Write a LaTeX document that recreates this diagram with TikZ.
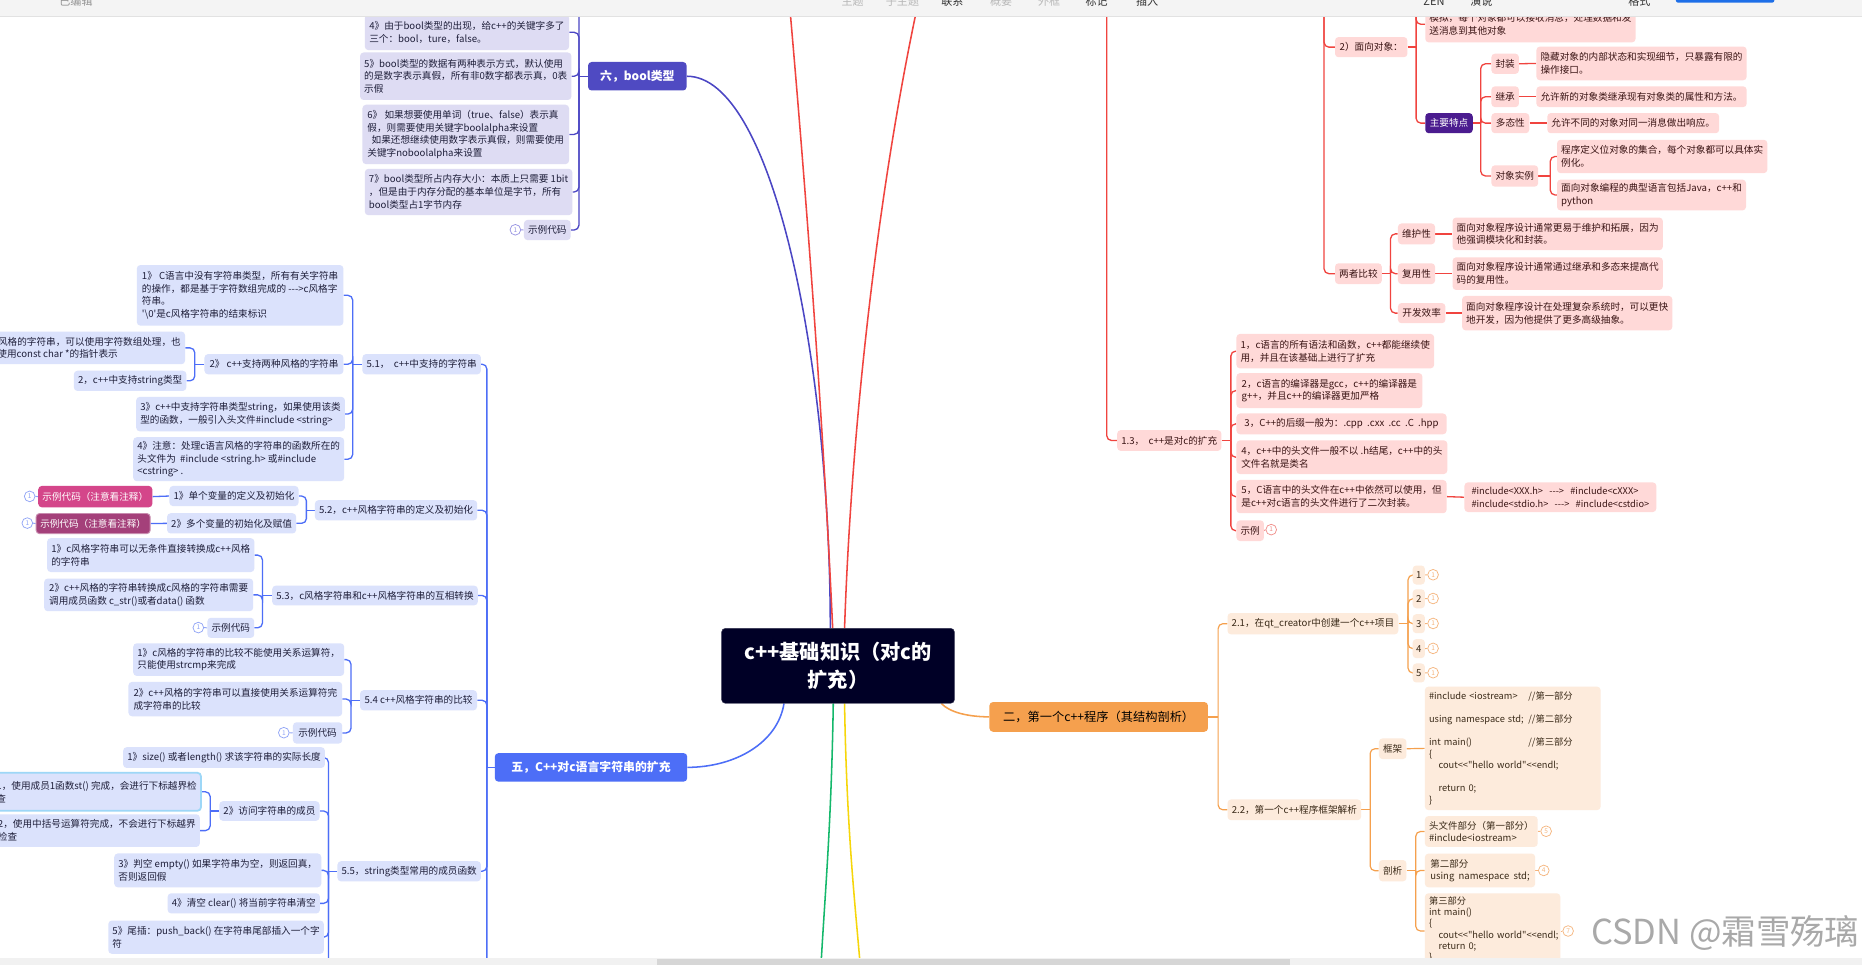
\documentclass[tikz,border=0pt]{standalone}
\usepackage{fontspec}
\newfontfamily\cjk{Noto Sans CJK SC}
\usetikzlibrary{calc}
\definecolor{boolc}{HTML}{4B46C4}
\definecolor{boolfill}{HTML}{4F4AC2}
\definecolor{lavfill}{HTML}{DEDCF3}
\definecolor{wuc}{HTML}{4D6EF7}
\definecolor{bluefill}{HTML}{DBE2FC}
\definecolor{redc}{HTML}{F0443F}
\definecolor{pinkfill}{HTML}{FFD9D8}
\definecolor{pinktxt}{HTML}{3A1414}
\definecolor{orc}{HTML}{F5A04D}
\definecolor{orfill}{HTML}{F5A04E}
\definecolor{peachfill}{HTML}{FDEBDC}
\definecolor{browntxt}{HTML}{3A2A18}
\definecolor{darktxt}{HTML}{1F1F3A}
\definecolor{rootfill}{HTML}{000026}
\definecolor{greenc}{HTML}{14B86B}
\definecolor{yellowc}{HTML}{F6D60A}
\definecolor{purplefill}{HTML}{4B1C8F}
\definecolor{pinkA}{HTML}{D4468A}
\definecolor{pinkB}{HTML}{A4407A}
\definecolor{selc}{HTML}{9DD7F7}
\definecolor{tbfill}{HTML}{F4F4F4}
\definecolor{tbline}{HTML}{E2E2E2}
\definecolor{tbgray}{HTML}{B8B8B8}
\definecolor{tbdark}{HTML}{333333}
\definecolor{btnblue}{HTML}{1E6FE8}
\definecolor{badgeb}{HTML}{9692E2}
\definecolor{badgebl}{HTML}{8FA3F6}
\definecolor{badger}{HTML}{F08E8A}
\definecolor{badgeo}{HTML}{F5B47C}
\definecolor{wmgray}{HTML}{A9A9A9}
\definecolor{sbfill}{HTML}{F1F1F1}
\definecolor{sbthumb}{HTML}{D6D6D6}
\pgfdeclarelayer{back}
\pgfdeclarelayer{bg}
\pgfsetlayers{back,bg,main}
\newcommand\bx[7]{\node[#2, minimum width={(#5)-(#3)}, minimum height={(#6)-(#4)}] (#1) at (#3,#4) {#7};}
\begin{document}
\begin{tikzpicture}[x=1pt, y=-1pt,
 base/.style={rounded corners=3pt, inner xsep=3.5pt, inner ysep=2pt, font=\cjk\fontsize{8.1}{10.8}\selectfont, align=left, anchor=north west},
 lav/.style={base, fill=lavfill, text=darktxt},
 bsub/.style={base, fill=bluefill, text=darktxt},
 pnk/.style={base, fill=pinkfill, text=pinktxt},
 pch/.style={base, fill=peachfill, text=browntxt},
 bl/.style={draw=boolc, line width=1.1pt, rounded corners=4pt},
 wl/.style={draw=wuc, line width=1.1pt, rounded corners=4pt},
 rl/.style={draw=redc, line width=1.1pt, rounded corners=4pt},
 ol/.style={draw=orc, line width=1pt, rounded corners=4pt},
 badge/.style={circle, draw=#1, text=#1, fill=white, inner sep=0pt, minimum size=9pt, line width=0.6pt, font=\cjk\fontsize{5.5}{6}\selectfont},
 tb/.style={anchor=base, font=\cjk\fontsize{9.3}{10}\selectfont, inner sep=0pt}
]
\useasboundingbox (0,0) rectangle (1568,812);
\begin{pgfonlayer}{back}
\fill[white] (0,0) rectangle (1568,812);
\end{pgfonlayer}

% ---------- root ----------
\node[rounded corners=3pt, fill=rootfill, draw=rootfill!80!white, text=white, font=\cjk\bfseries\fontsize{17}{23}\selectfont, align=center, anchor=north west, minimum width=196, minimum height=63] (root) at (607.5,529) {c++基础知识（对c的\\扩充）};

% ---------- bool branch ----------
\bx{bool}{base, fill=boolfill, text=white, font=\cjk\bfseries\fontsize{10}{12}\selectfont, align=center}{495}{52}{578}{76}{六，bool类型}
\bx{b4}{lav}{307}{12}{479}{42}{4》由于bool类型的出现，给c++的关键字多了\\三个：bool，ture，false。}
\bx{b5}{lav}{303}{44}{479}{84}{5》bool类型的数据有两种表示方式，默认使用\\的是数字表示真假，所有非0数字都表示真，0表\\示假}
\bx{b6}{lav}{305}{88}{479}{138}{6》 如果想要使用单词（true、false）表示真\\假，则需要使用关键字boolalpha来设置\\\ \ 如果还想继续使用数字表示真假，则需要使用\\关键字noboolalpha来设置}
\bx{b7}{lav}{307}{142}{479}{181}{7》bool类型所占内存大小：本质上只需要 1bit\\，但是由于内存分配的基本单位是字节，所有\\bool类型占1字节内存}
\bx{b8}{lav}{441}{185}{479}{202}{示例代码}
\node[badge=badgeb] (cb8) at (434,193.5) {1};

% ---------- five branch ----------
\bx{wu}{base, fill=wuc, text=white, font=\cjk\bfseries\fontsize{10}{12}\selectfont, align=center}{416.5}{634}{578.5}{658}{五，C++对c语言字符串的扩充}
\bx{s51}{bsub}{305}{298}{401.5}{315}{5.1，\ \ c++中支持的字符串}
\bx{s52}{bsub}{265}{421}{401.5}{438}{5.2，c++风格字符串的定义及初始化}
\bx{s53}{bsub}{229}{493}{401.5}{509.5}{5.3，c风格字符串和c++风格字符串的互相转换}
\bx{s54}{bsub}{303}{581}{401.5}{598}{5.4 c++风格字符串的比较}
\bx{s55}{bsub}{284}{725}{401.5}{742}{5.5，string类型常用的成员函数}

\bx{s511}{bsub}{115}{223}{289}{274}{1》\ C语言中没有字符串类型，所有有关字符串\\的操作，都是基于字符数组完成的 --->c风格字\\符串。\\'\textbackslash 0'是c风格字符串的结束标识}
\bx{s512}{bsub}{172}{298}{289}{315}{2》\ c++支持两种风格的字符串}
\bx{s513}{bsub}{114.5}{334}{289}{363}{3》c++中支持字符串类型string，如果使用该类\\型的函数，一般引入头文件\#include <string>}
\bx{s514}{bsub}{112}{368}{289}{405}{4》注意：处理c语言风格的字符串的函数所在的\\头文件为\ \ \#include <string.h> 或\#include\\<cstring> .}
\node[bsub, anchor=north east, minimum height=27.5] (s5121) at (156,279) {1，c风格的字符串，可以使用字符数组处理，也\\可以使用const char *的指针表示};
\bx{s5122}{bsub}{62}{312}{156}{329}{2，c++中支持string类型}

\bx{s521}{bsub}{142.5}{409}{249}{426}{1》单个变量的定义及初始化}
\bx{s522}{bsub}{140.5}{432}{249}{449}{2》多个变量的初始化及赋值}
\bx{p1}{base, fill=pinkA, text=white}{32}{409}{127}{427}{示例代码（注意看注释）}
\bx{p2}{base, fill=pinkB, text=white, draw=pinkB!60!white, line width=0.8pt}{30}{432}{125.5}{449}{示例代码（注意看注释）}
\node[badge=badgebl] (cp1) at (25,418) {1};
\node[badge=badgebl] (cp2) at (23,440.5) {1};

\bx{s531}{bsub}{39.5}{453}{213}{481.5}{1》c风格字符串可以无条件直接转换成c++风格\\的字符串}
\bx{s532}{bsub}{37}{487}{213}{514.5}{2》c++风格的字符串转换成c风格的字符串需要\\调用成员函数 c\_str()或者data() 函数}
\bx{s533}{bsub}{174.5}{520}{213}{537}{示例代码}
\node[badge=badgebl] (c533) at (167,528.5) {1};

\bx{s541}{bsub}{112}{541.5}{288}{569}{1》c风格的字符串的比较不能使用关系运算符，\\只能使用strcmp来完成}
\bx{s542}{bsub}{108}{574}{288}{603}{2》c++风格的字符串可以直接使用关系运算符完\\成字符串的比较}
\bx{s543}{bsub}{246.5}{608}{288}{626}{示例代码}
\node[badge=badgebl] (c543) at (239,617) {1};

\bx{s551}{bsub}{103.5}{629}{268.6}{646.5}{1》size() 或者length() 求该字符串的实际长度}
\bx{s552}{bsub}{184.5}{674.5}{268.6}{691}{2》访问字符串的成员}
\node[bsub, anchor=north east, minimum height=32, draw=selc, line width=1.5pt] (s5521) at (170,650) {1，使用成员1函数st() 完成，会进行下标越界检\\查};
\node[bsub, anchor=north east, minimum height=27.5] (s5522) at (168.5,685.5) {2，使用中括号运算符完成，不会进行下标越界\\检查};
\bx{s553}{bsub}{96}{718.5}{268.6}{747}{3》判空 empty() 如果字符串为空，则返回真，\\否则返回假}
\bx{s554}{bsub}{141}{752}{268.6}{769}{4》清空 clear() 将当前字符串清空}
\bx{s555}{bsub}{91}{775}{268.6}{803}{5》尾插：push\_back() 在字符串尾部插入一个字\\符}

% ---------- red branch ----------
\bx{rTop}{pnk}{1200}{5}{1376}{35.5}{模拟，每个对象都可以接收消息，处理数据和发\\送消息到其他对象}
\bx{r2}{pnk}{1124}{31}{1185}{48}{2）面向对象：}
\bx{rMain}{base, fill=purplefill, text=white}{1200}{95}{1240}{112}{主要特点}
\bx{rF}{pnk}{1255.7}{45}{1277.5}{62}{封装}
\bx{rJ}{pnk}{1255.7}{72.5}{1277.5}{90}{继承}
\bx{rD}{pnk}{1255.7}{95}{1287.6}{112}{多态性}
\bx{rO}{pnk}{1255.7}{139}{1293.7}{157}{对象实例}
\bx{rF1}{pnk}{1293.6}{39}{1468.6}{67.4}{隐藏对象的内部状态和实现细节，只暴露有限的\\操作接口。}
\bx{rJ1}{pnk}{1293.6}{72.5}{1468.6}{90}{允许新的对象类继承现有对象类的属性和方法。}
\bx{rD1}{pnk}{1302.8}{95}{1435}{112}{允许不同的对象对同一消息做出响应。}
\bx{rO1}{pnk}{1311}{117.5}{1486}{145.6}{程序定义位对象的集合，每个对象都可以具体实\\例化。}
\bx{rO2}{pnk}{1311}{151}{1468.6}{177}{面向对象编程的典型语言包括Java，c++和\\python}
\bx{rC}{pnk}{1124}{221.5}{1162.4}{239}{两者比较}
\bx{rC1}{pnk}{1177}{188}{1208}{205.5}{维护性}
\bx{rC2}{pnk}{1177}{221.5}{1208}{239}{复用性}
\bx{rC3}{pnk}{1177}{255}{1217}{272}{开发效率}
\bx{rC1a}{pnk}{1223}{183}{1399.6}{210.5}{面向对象程序设计通常更易于维护和拓展，因为\\他强调模块化和封装。}
\bx{rC2a}{pnk}{1223}{216.5}{1399.6}{244}{面向对象程序设计通常通过继承和多态来提高代\\码的复用性。}
\bx{rC3a}{pnk}{1231}{249}{1408}{278}{面向对象程序设计在处理复杂系统时，可以更快\\地开发，因为他提供了更多高级抽象。}
\bx{r13}{pnk}{940.6}{362}{1025.7}{379.5}{1.3，\ \ c++是对c的扩充}
\bx{r131}{pnk}{1041}{281}{1207.5}{310}{1，c语言的所有语法和函数，c++都能继续使\\用，并且在该基础上进行了扩充}
\bx{r132}{pnk}{1041}{314}{1197.6}{343.5}{2，c语言的编译器是gcc，c++的编译器是\\g++，并且c++的编译器更加严格}
\bx{r133}{pnk}{1041}{348}{1218}{365.5}{3，C++的后缀一般为：.cpp\ \ .cxx\ \ .cc\ \ .C\ \ .hpp}
\bx{r134}{pnk}{1041}{370.6}{1218.6}{399}{4，c++中的头文件一般不以 .h结尾，c++中的头\\文件名就是类名}
\bx{r135}{pnk}{1041}{404}{1218}{432}{5，C语言中的头文件在c++中依然可以使用，但\\是c++对c语言的头文件进行了二次封装。}
\bx{r135a}{pnk, font=\cjk\fontsize{7.8}{10.4}\selectfont}{1233}{406}{1394.6}{431}{\#include<XXX.h>\ \ \ --->\ \ \ \#include<cXXX>\\\#include<stdio.h>\ \ \ --->\ \ \ \#include<cstdio>}
\bx{r136}{pnk}{1041}{438}{1062.7}{455.4}{示例}
\node[badge=badger] (c136) at (1070.5,446) {1};

% ---------- orange branch ----------
\bx{o2}{base, fill=orfill, text=black, font=\cjk\fontsize{10.3}{12}\selectfont, align=center}{833}{591}{1017}{616}{二，第一个c++程序（其结构剖析）}
\bx{o21}{pch}{1033.5}{516}{1174}{534}{2.1，在qt\_creator中创建一个c++项目}
\bx{o211}{pch, inner xsep=2pt}{1189.4}{476}{1199.7}{492}{1}
\bx{o212}{pch, inner xsep=2pt}{1189.4}{496}{1199.7}{512}{2}
\bx{o213}{pch, inner xsep=2pt}{1189.4}{517}{1199.7}{533}{3}
\bx{o214}{pch, inner xsep=2pt}{1189.4}{538}{1199.7}{554}{4}
\bx{o215}{pch, inner xsep=2pt}{1189.4}{558.5}{1199.7}{574.5}{5}
\node[badge=badgeo] (c211) at (1206.8,484) {1};
\node[badge=badgeo] (c212) at (1206.8,504) {1};
\node[badge=badgeo] (c213) at (1206.8,525) {1};
\node[badge=badgeo] (c214) at (1206.8,546) {1};
\node[badge=badgeo] (c215) at (1206.8,566.5) {1};
\bx{o22}{pch}{1033.5}{673}{1146}{690.5}{2.2，第一个c++程序框架解析}
\bx{o221}{pch}{1161}{621.6}{1184}{639}{框架}
\node[pch, font=\cjk\fontsize{7.8}{9.7}\selectfont, text width=141, minimum height=104] (o221a) at (1199.7,578) {\makebox[83.6pt][l]{\#include <iostream>}//第一部分\\\mbox{}\\\makebox[83.6pt][l]{using namespace std;}//第二部分\\\mbox{}\\\makebox[83.6pt][l]{int main()}//第三部分\\\{\\\hspace*{8pt}\mbox{cout<<"hello world"<<endl;}\\\mbox{}\\\hspace*{8pt}return 0;\\\}};
\bx{o222}{pch}{1161}{724}{1184}{742}{剖析}
\bx{o2221}{pch, font=\cjk\fontsize{8}{10.4}\selectfont}{1199.7}{687}{1294.5}{713}{头文件部分（第一部分）\\\#include<iostream>}
\bx{o2222}{pch, font=\cjk\fontsize{8}{10.4}\selectfont}{1199.7}{718.6}{1292.6}{747}{第二部分\\using\ \ namespace\ \ std;}
\node[pch, font=\cjk\fontsize{7.8}{9.4}\selectfont, text width=107, inner ysep=3pt] (o2223) at (1199.7,752) {第三部分\\int main()\\\{\\\hspace*{8pt}\mbox{cout<<"hello world"<<endl;}\\\hspace*{8pt}return 0;\\\}};
\node[badge=badgeo] (c2221) at (1302,700) {5};
\node[badge=badgeo] (c2222) at (1300,733) {4};
\node[badge=badgeo] (c2223) at (1320.5,784) {7};

% ---------- free ends ----------
\coordinate (redA) at (664,-6);
\coordinate (redB) at (775,-6);
\coordinate (greenEnd) at (691,820);
\coordinate (yellowEnd) at (725,820);
\coordinate (boolTop) at (487.5,-6);
\coordinate (wuBot) at (410,820);
\coordinate (s55Bot) at (276.6,820);
\coordinate (topA) at (932,-6);
\coordinate (topB) at (1115,-6);
\coordinate (topC) at (1192.5,-6);

\begin{pgfonlayer}{bg}
% main curves
\draw[draw=boolc, line width=1.3pt] (bool.east) .. controls (650,64) and (699,300) .. ([xshift=-6.5pt]root.north);
\draw[draw=redc, line width=1.3pt] ([xshift=-4.5pt]root.north) .. controls (692,330) and (676,130) .. (redA);
\draw[draw=redc, line width=1.3pt] ([xshift=5.5pt]root.north) .. controls (718,330) and (745,130) .. (redB);
\draw[draw=greenc, line width=1.3pt] ([xshift=-4pt]root.south) .. controls (700,700) and (694,760) .. (greenEnd);
\draw[draw=yellowc, line width=1.3pt] ([xshift=5.5pt]root.south) .. controls (713,700) and (720,760) .. (yellowEnd);
\draw[draw=wuc, line width=1.3pt] ([xshift=-45.5pt]root.south) .. controls (655,625) and (620,646) .. (wu.east);
\draw[draw=orc, line width=1.3pt] ([xshift=87pt]root.south) .. controls (800,600) and (815,603.5) .. (o2.west);

% bool
\draw[bl] (bool.west) -- ([xshift=-7.5pt]bool.west);
\draw[bl] (boolTop) -- ([xshift=-7.5pt]bool.west) |- (b8.east);
\foreach \n in {b4,b5,b6,b7} \draw[bl] ([xshift=-7.5pt]bool.west) |- (\n.east);
\draw[draw=badgeb, line width=0.8pt] (b8.west) -- (cb8.east);

% five
\draw[wl] (wu.west) -- ([xshift=-6.5pt]wu.west);
\draw[wl] (wuBot) -- ([xshift=-6.5pt]wu.west) |- (s51.east);
\foreach \n in {s52,s53,s54,s55} \draw[wl] ([xshift=-6.5pt]wu.west) |- (\n.east);
\draw[wl] (s51.west) -- ([xshift=-8pt]s51.west);
\foreach \n in {s511,s512,s513,s514} \draw[wl] ([xshift=-8pt]s51.west) |- (\n.east);
\draw[wl] (s512.west) -- ([xshift=-8pt]s512.west);
\foreach \n in {s5121,s5122} \draw[wl] ([xshift=-8pt]s512.west) |- (\n.east);
\draw[wl] (s52.west) -- ([xshift=-7pt]s52.west);
\foreach \n in {s521,s522} \draw[wl] ([xshift=-7pt]s52.west) |- (\n.east);
\draw[wl] (s521.west) -- (p1.east);
\draw[wl] (s522.west) -- (p2.east);
\draw[draw=badgebl, line width=0.8pt] (p1.west) -- (cp1.east);
\draw[draw=badgebl, line width=0.8pt] (p2.west) -- (cp2.east);
\draw[wl] (s53.west) -- ([xshift=-8pt]s53.west);
\foreach \n in {s531,s532,s533} \draw[wl] ([xshift=-8pt]s53.west) |- (\n.east);
\draw[draw=badgebl, line width=0.8pt] (s533.west) -- (c533.east);
\draw[wl] (s54.west) -- ([xshift=-7.4pt]s54.west);
\foreach \n in {s541,s542,s543} \draw[wl] ([xshift=-7.4pt]s54.west) |- (\n.east);
\draw[draw=badgebl, line width=0.8pt] (s543.west) -- (c543.east);
\draw[wl] (s55.west) -- ([xshift=-7.4pt]s55.west);
\draw[wl] (s55Bot) -- ([xshift=-7.4pt]s55.west) |- (s551.east);
\foreach \n in {s552,s553,s554,s555} \draw[wl] ([xshift=-7.4pt]s55.west) |- (\n.east);
\draw[wl] (s552.west) -- ([xshift=-7.5pt]s552.west);
\foreach \n in {s5521,s5522} \draw[wl] ([xshift=-7.5pt]s552.west) |- (\n.east);

% red
\draw[rl] (topA) |- (r13.west);
\draw[rl] (topB) |- (r2.west);
\draw[rl] (topB) |- (rC.west);
\draw[rl] (r2.east) -- ([xshift=7.5pt]r2.east);
\draw[rl] (topC) |- (rMain.west);
\draw[rl] (topC) |- (rTop.west);
\draw[rl] (rMain.east) -- ([xshift=6.5pt]rMain.east);
\foreach \n in {rF,rJ,rD,rO} \draw[rl] ([xshift=6.5pt]rMain.east) |- (\n.west);
\draw[rl] (rF.east) -- (rF1.west);
\draw[rl] (rJ.east) -- (rJ1.west);
\draw[rl] (rD.east) -- (rD1.west);
\draw[rl] (rO.east) -- ([xshift=10pt]rO.east);
\foreach \n in {rO1,rO2} \draw[rl] ([xshift=10pt]rO.east) |- (\n.west);
\draw[rl] (rC.east) -- ([xshift=7.2pt]rC.east);
\foreach \n in {rC1,rC2,rC3} \draw[rl] ([xshift=7.2pt]rC.east) |- (\n.west);
\draw[rl] (rC1.east) -- (rC1a.west);
\draw[rl] (rC2.east) -- (rC2a.west);
\draw[rl] (rC3.east) -- (rC3a.west);
\draw[rl] (r13.east) -- ([xshift=7.8pt]r13.east);
\foreach \n in {r131,r132,r133,r134,r135,r136} \draw[rl] ([xshift=7.8pt]r13.east) |- (\n.west);
\draw[rl] (r135.east) -- (r135a.west);
\draw[draw=badger, line width=0.8pt] (r136.east) -- (c136.west);

% orange
\draw[ol] (o2.east) -- ([xshift=8.4pt]o2.east);
\foreach \n in {o21,o22} \draw[ol] ([xshift=8.4pt]o2.east) |- (\n.west);
\draw[ol] (o21.east) -- ([xshift=8pt]o21.east);
\foreach \n in {o211,o212,o213,o214,o215} \draw[ol] ([xshift=8pt]o21.east) |- (\n.west);
\draw[draw=badgeo, line width=0.8pt] (o211.east) -- (c211.west);
\draw[draw=badgeo, line width=0.8pt] (o212.east) -- (c212.west);
\draw[draw=badgeo, line width=0.8pt] (o213.east) -- (c213.west);
\draw[draw=badgeo, line width=0.8pt] (o214.east) -- (c214.west);
\draw[draw=badgeo, line width=0.8pt] (o215.east) -- (c215.west);
\draw[ol] (o22.east) -- ([xshift=7.4pt]o22.east);
\foreach \n in {o221,o222} \draw[ol] ([xshift=7.4pt]o22.east) |- (\n.west);
\draw[ol] (o221.east) -- (o221a.west);
\draw[ol] (o222.east) -- ([xshift=7.6pt]o222.east);
\foreach \n in {o2221,o2222} \draw[ol] ([xshift=7.6pt]o222.east) |- (\n.west);
\draw[ol] ([xshift=7.6pt]o222.east) |- ([yshift=-32pt]o2223.north west);
\draw[draw=badgeo, line width=0.8pt] (o2221.east) -- (c2221.west);
\draw[draw=badgeo, line width=0.8pt] (o2222.east) -- (c2222.west);
\draw[draw=badgeo, line width=0.8pt] ([yshift=-32pt]o2223.north east) -- (c2223.west);
\end{pgfonlayer}

% watermark
\node[anchor=east, text=wmgray, font=\cjk\fontsize{29}{32}\selectfont, inner sep=0pt] (wm) at (1566,786) {CSDN @霜雪殇璃};

% bottom scrollbar
\fill[sbfill] (0,807) rectangle (1568,816);
\fill[sbthumb] (553,807.5) rectangle (1086,816);

% toolbar
\fill[tbfill] (0,-6) rectangle (1568,14);
\draw[tbline, line width=0.6pt] (0,14) -- (1568,14);
\node[tb, text=tbgray!80!black] (t1) at (64,4.6) {已编辑};
\node[tb, text=tbgray] (t2) at (718,4.6) {主题};
\node[tb, text=tbgray] (t3) at (760,4.6) {子主题};
\node[tb, text=tbdark] (t4) at (802,4.6) {联系};
\node[tb, text=tbgray] (t5) at (843,4.6) {概要};
\node[tb, text=tbgray] (t6) at (883.5,4.6) {外框};
\node[tb, text=tbdark] (t7) at (923.5,4.6) {标记};
\node[tb, text=tbdark] (t8) at (966,4.6) {插入};
\node[tb, text=tbdark] (t9) at (1207.5,4.6) {ZEN};
\node[tb, text=tbdark] (t10) at (1247.5,4.6) {演说};
\node[tb, text=tbdark] (t11) at (1380.5,4.6) {格式};
\node[fill=btnblue, rounded corners=2pt, minimum width=83, minimum height=9, anchor=south west, inner sep=0pt] (btn) at (1411,2.5) {};
\end{tikzpicture}
\end{document}
